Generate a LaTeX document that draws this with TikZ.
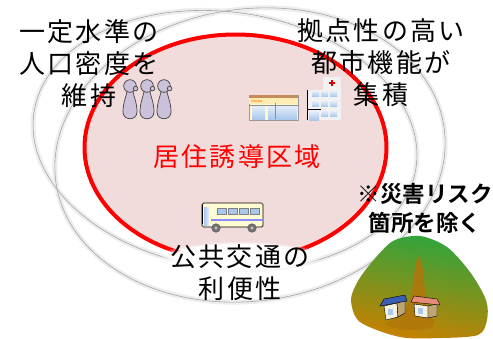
\documentclass[tikz,border=0pt]{standalone}
\usepackage{fontspec}
\usetikzlibrary{fadings}

\newfontfamily\jpfont[LetterSpace=8]{Noto Sans CJK JP}
\newfontfamily\jpbold{Noto Sans CJK JP Bold}

\definecolor{zonefill}{RGB}{242,220,219}
\definecolor{lav}{RGB}{204,193,218}
\definecolor{winblue}{RGB}{170,200,235}
\definecolor{winlight}{RGB}{228,238,250}
\definecolor{storeyellow}{RGB}{255,250,205}
\definecolor{storeband}{RGB}{196,140,90}
\definecolor{signyellow}{RGB}{255,236,180}
\definecolor{bldgrey}{RGB}{242,242,242}
\definecolor{busyellow}{RGB}{255,251,210}
\definecolor{hillgreen}{RGB}{44,166,62}
\definecolor{hillmid}{RGB}{100,160,30}
\definecolor{hillbrown}{RGB}{200,128,0}
\definecolor{slide}{RGB}{178,118,10}
\definecolor{roofblue}{RGB}{60,95,180}
\definecolor{roofpink}{RGB}{230,140,120}
\definecolor{wallside}{RGB}{190,165,115}
\definecolor{wallfront}{RGB}{246,240,222}

\begin{document}
\begin{tikzpicture}[
            x = 1pt, y = -1pt, % pixel grid, y grows downwards
            ring/.style = {draw = gray!70, line width = 0.6pt},
            glow/.style = {draw = black!7, line width = 5pt},
            label/.style = {font = \jpfont\fontsize{26}{32}\selectfont, align = center},
            note/.style = {font = \jpbold\fontsize{22.5}{29}\selectfont, align = center},
            frame/.style = {draw = black!75, line width = 0.7pt},
            person/.pic = {
                \draw[frame, fill = lav] (-2.8,5) .. controls (-4,11) and (-7,17) .. (-7,26)
                    .. controls (-7,35) and (7,35) .. (7,26)
                    .. controls (7,17) and (4,11) .. (2.8,5) -- cycle;
                \draw[frame, fill = lav] (0,0) circle [radius = 6.3];
                \draw[frame, fill = lav] (5.6,2.6) circle [radius = 2.3];
            }
        ]

        \useasboundingbox (0,0) rectangle (493,338);

        % outer rings with their soft shadow
        \draw[glow, rotate around = {-8:(225,140)}] (225,140) ellipse [x radius = 193, y radius = 128];
        \draw[glow, rotate around = {8:(250,155)}] (250,155) ellipse [x radius = 196, y radius = 146];
        \draw[ring, rotate around = {-8:(225,140)}] (225,140) ellipse [x radius = 193, y radius = 128];
        \draw[ring, rotate around = {8:(250,155)}] (250,155) ellipse [x radius = 196, y radius = 146];

        % the zone itself
        \draw[red, line width = 4pt, fill = zonefill] (235.5,147.5) ellipse [x radius = 151, y radius = 113];

        % white glow under the lower caption
        \fill[white, path fading = circle with fuzzy edge 20 percent] (240,257) ellipse [x radius = 82, y radius = 16];

        % people
        \pic at (130,86) {person};
        \pic at (147,86) {person};
        \pic at (164,86) {person};

        % shop
        \draw[draw = black!40, fill = storeyellow] (249,95) rectangle (298,120);
        \fill[storeband] (249,95) rectangle (298,98);
        \fill[signyellow] (249,98) rectangle (298,104);
        \node[font = \sffamily\bfseries\fontsize{3.5}{3.5}\selectfont, text = orange, inner sep = 0pt] (shop) at (257,101) {Market};
        \shade[top color = winlight, bottom color = winblue] (252,106) rectangle (265,119);
        \shade[top color = winlight, bottom color = winblue] (268,106) rectangle (297,119);
        \draw[black!45] (249,105.5) -- (298,105.5);
        \draw[black!45] (275,103) -- (275,119);

        % hospital
        \fill[bldgrey] (323,77) rectangle (341,91);
        \fill[bldgrey] (307,90) rectangle (341,120);
        \draw[red!85!black, line width = 1.2pt] (329,83) -- (335,83) (332,80) -- (332,86);
        \foreach \cx in {312,321,330} {
            \foreach \cy in {91,101} {
                \shade[top color = winlight, bottom color = winblue] (\cx,\cy) rectangle ++(7,5.5);
            }
        }
        \shade[top color = winlight, bottom color = winblue] (321,111) rectangle ++(7,5.5);
        \shade[top color = winlight, bottom color = winblue] (330,111) rectangle ++(7,5.5);
        \shade[top color = winlight, bottom color = winblue] (309,111) rectangle (319,120);
        \draw[black, line width = 1pt] (307.5,90) -- (307.5,120);
        \draw[black, line width = 0.8pt] (307,109.5) -- (321,109.5);

        % bus
        \draw[black, line width = 0.7pt, fill = busyellow, rounded corners = 1.5pt] (202,203) rectangle (263,227);
        \shade[left color = winblue, right color = winlight] (204,207) rectangle (209,225);
        \foreach \wx in {217,228,239,250} {
            \draw[black!50, fill = winblue] (\wx,208) rectangle ++(9,6);
        }
        \fill[blue!45] (211,219) rectangle (263,221);
        \draw[black, line width = 1pt] (202.5,205) -- (202.5,224);
        \draw[black!70, fill = black!55] (216,228) circle [radius = 4.3];
        \draw[black!70, fill = black!55] (252,228) circle [radius = 4.3];
        \fill[black!25] (216,228) circle [radius = 1.6];
        \fill[black!25] (252,228) circle [radius = 1.6];

        % hill with a slope failure
        \shade[top color = hillgreen, middle color = hillgreen!70!hillmid, bottom color = hillbrown, shading angle = -10]
            plot[smooth cycle] coordinates {(420,236) (447,247) (470,272) (486,300) (487,320) (478,335)
                (440,338) (400,337) (360,322) (351,300) (358,281) (372,262) (393,241)};
        \fill[slide, opacity = 0.85] (419,256) .. controls (425,266) and (423,290) .. (428,308)
            .. controls (432,318) and (438,324) .. (430,328)
            .. controls (418,332) and (395,330) .. (385,324)
            .. controls (395,318) and (405,312) .. (410,300)
            .. controls (414,288) and (413,266) .. (419,256) -- cycle;

        % houses
        \draw[black, line width = 0.4pt, fill = wallfront] (384,306) -- (397,303) -- (398,317) -- (386,320) -- cycle;
        \draw[black, line width = 0.4pt, fill = wallside] (397,303) -- (405,300) -- (405,313) -- (398,317) -- cycle;
        \draw[black, line width = 0.4pt, fill = roofblue] (380,306) -- (384,299) -- (405,295) -- (407,301) -- cycle;
        \fill[winblue] (388,309) rectangle (393,315);
        \draw[black, line width = 0.4pt, fill = wallfront] (414,304) -- (428,306) -- (428,318) -- (415,316) -- cycle;
        \draw[black, line width = 0.4pt, fill = wallside] (428,306) -- (437,304) -- (437,316) -- (428,318) -- cycle;
        \draw[black, line width = 0.4pt, fill = roofpink] (411,302) -- (414,296) -- (437,299) -- (440,305) -- cycle;
        \fill[winblue] (418,308) rectangle (423,314);

        % texts
        \node[label] (density) at (89,64) {一定水準の\\人口密度を\\維持};
        \node[label] (hub) at (381,63) {拠点性の高い\\都市機能が\\集積};
        \node[label, text = red] (zone) at (237,157) {居住誘導区域};
        \node[label] (transit) at (240,273) {公共交通の\\利便性};
        \node[note] (risk) at (425,208) {※災害リスク\\箇所を除く};
    \end{tikzpicture}
\end{document}
